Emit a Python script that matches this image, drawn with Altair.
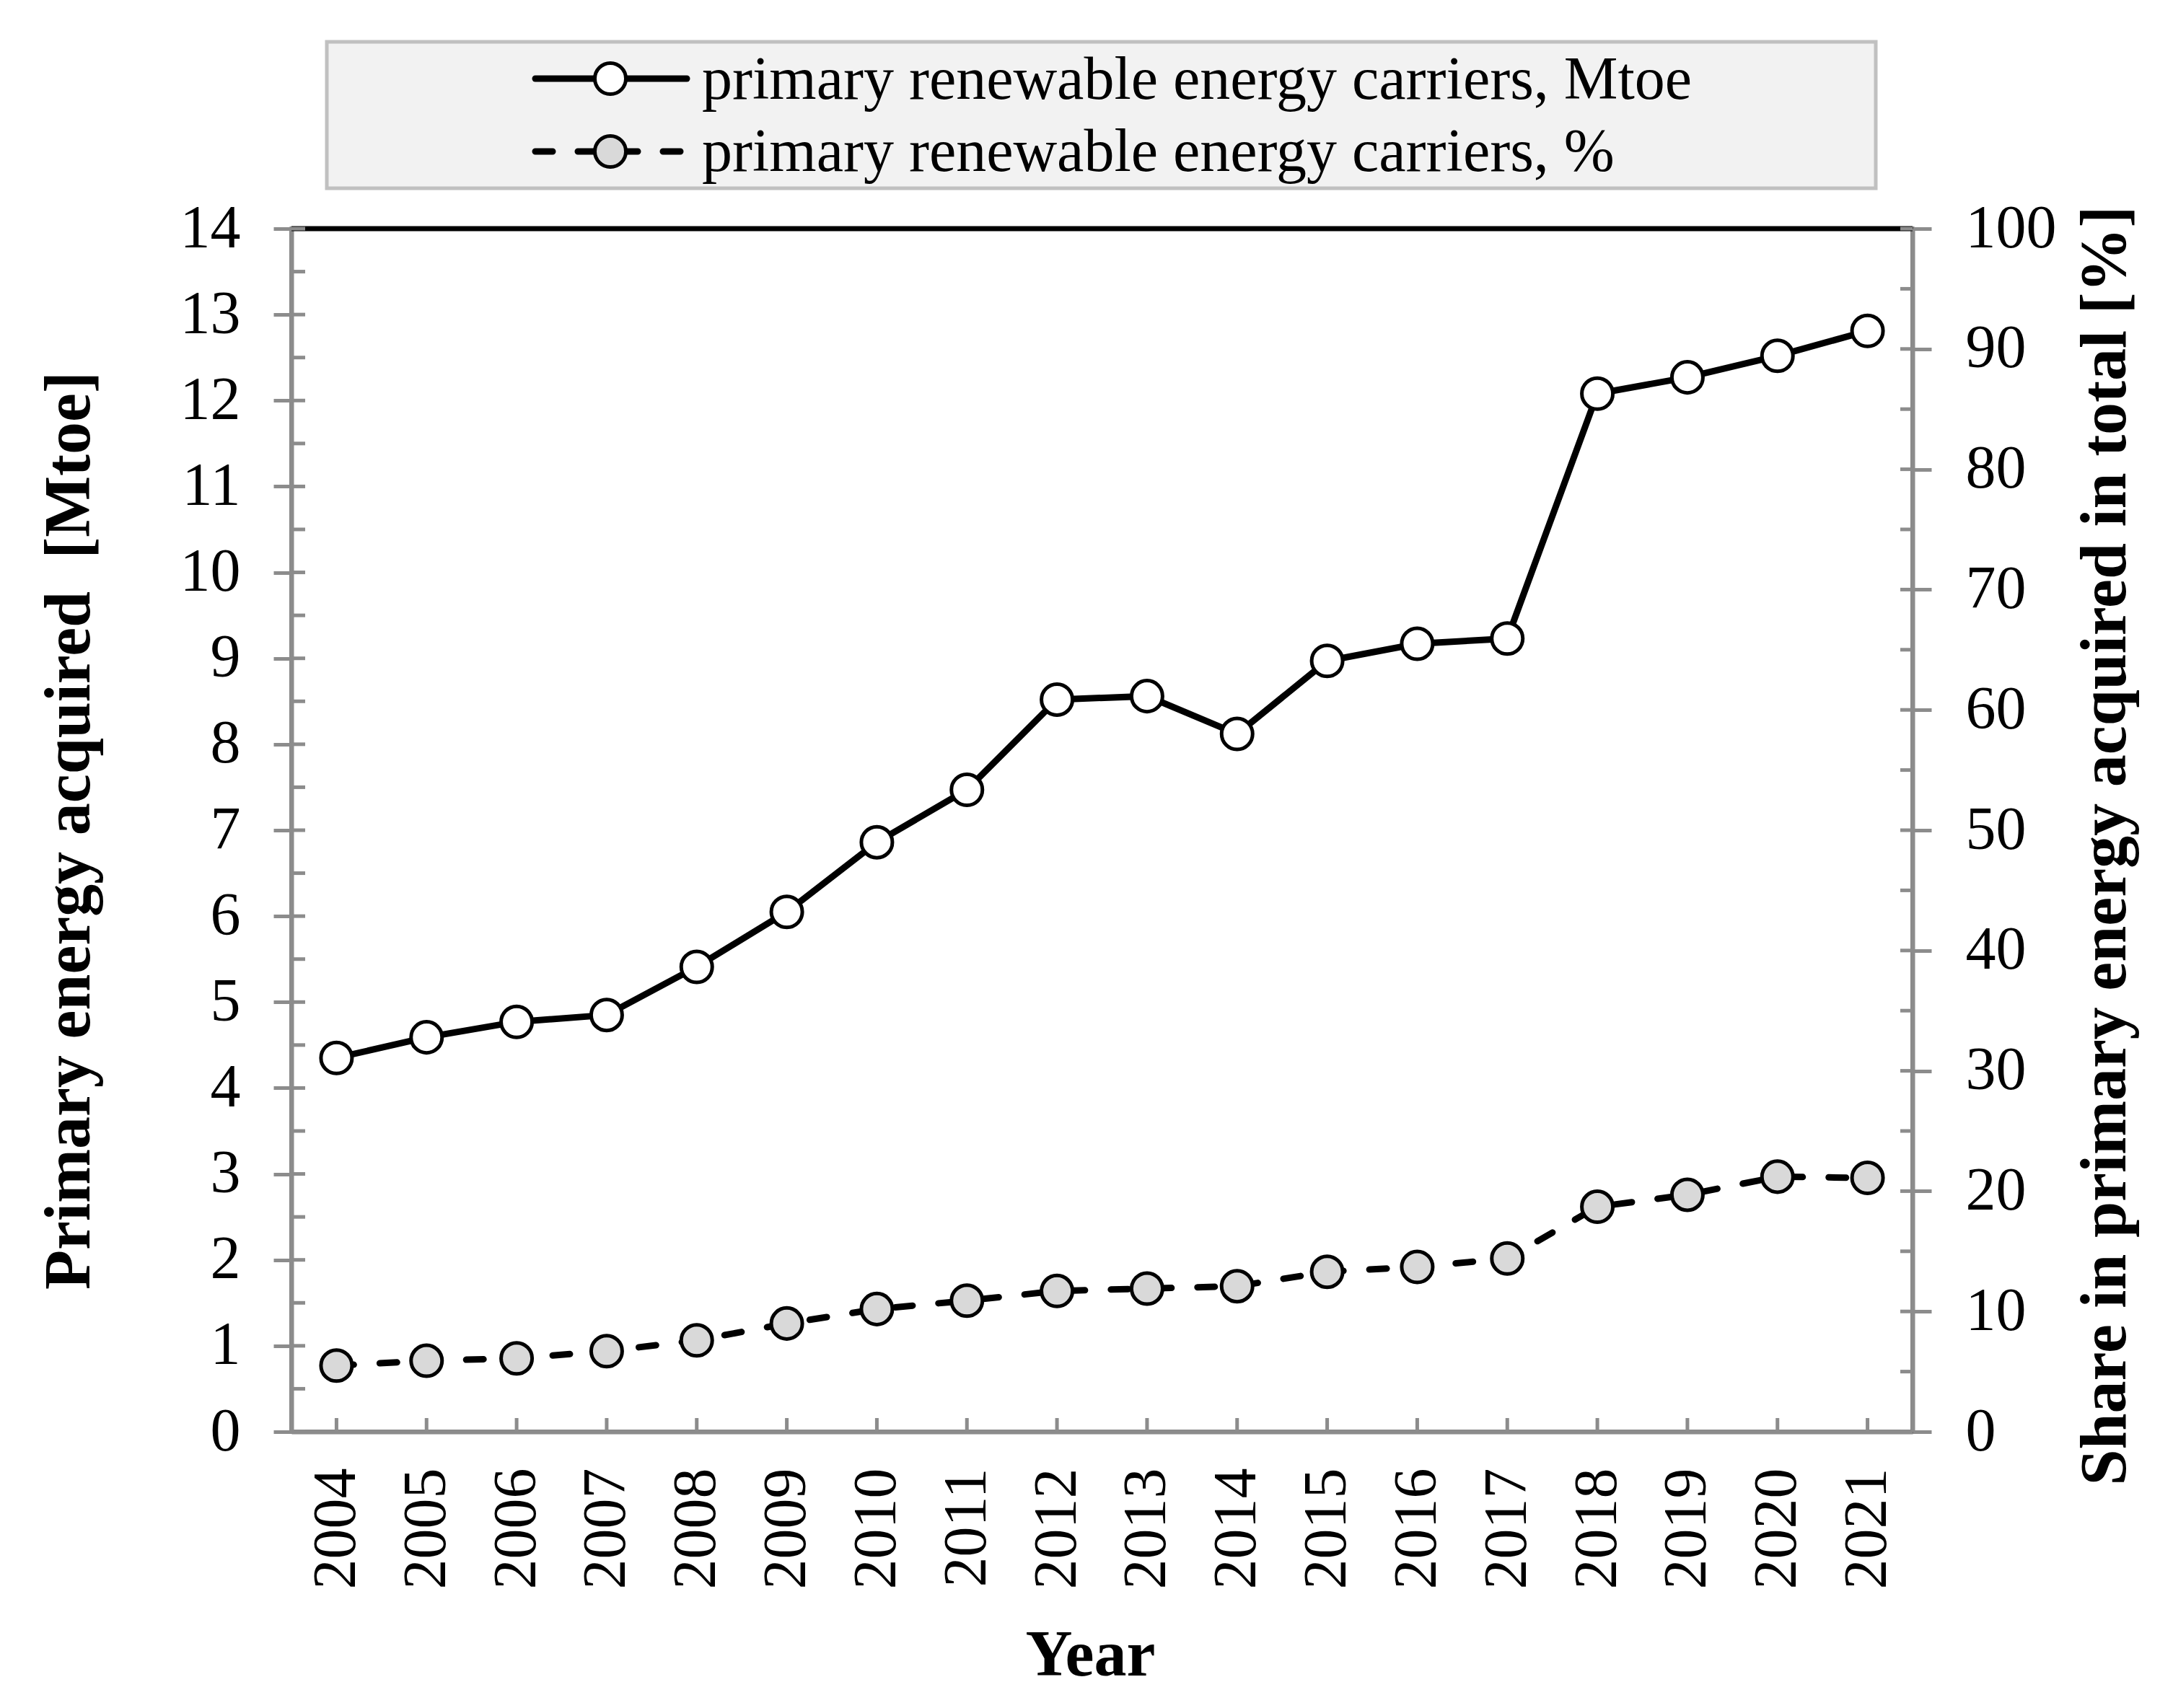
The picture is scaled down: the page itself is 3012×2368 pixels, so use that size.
import altair as alt
import pandas as pd

# ---- data ----
years = [2004, 2005, 2006, 2007, 2008, 2009, 2010, 2011, 2012,
         2013, 2014, 2015, 2016, 2017, 2018, 2019, 2020, 2021]
mtoe = [4.35, 4.59, 4.77, 4.85, 5.41, 6.05, 6.86, 7.47, 8.52,
        8.56, 8.12, 8.97, 9.17, 9.23, 12.08, 12.27, 12.52, 12.81]
share = [5.5, 5.9, 6.1, 6.7, 7.6, 9.0, 10.2, 10.9, 11.7,
         11.9, 12.1, 13.3, 13.7, 14.4, 18.7, 19.7, 21.2, 21.1]
legend_labels = ["primary renewable energy carriers, Mtoe",
                 "primary renewable energy carriers, %"]
mtoe_ticks = list(range(0, 15))
share_ticks = list(range(0, 101, 10))
mtoe_minor = [v / 2 for v in range(0, 29)]
share_minor = list(range(0, 101, 5))

# ---- style ----
W, H = 2247, 1668
FONT = "Liberation Serif"
GRAY = "#8c8c8c"
LBL = 84
TTL = 90
LW = 9
PSIZE = 1850

df = pd.DataFrame({"year": [str(y) for y in years], "mtoe": mtoe, "share": share})
leg = pd.DataFrame({"label": legend_labels})

xscale = alt.Scale(type="point", padding=0.5)
x_axis = alt.Axis(orient="bottom", ticks=False, tickSize=0, domainColor=GRAY, domainWidth=6,
                  grid=False, labelAngle=270, labelAlign="right", labelBaseline="middle",
                  labelFont=FONT, labelFontSize=LBL, labelColor="black", labelPadding=50,
                  title="Year", titleFont=FONT, titleFontSize=TTL, titleFontWeight="bold",
                  titleColor="black", titleX=1107, titleY=337, titleAlign="center",
                  titleBaseline="alphabetic")
x_enc = alt.X("year:O", scale=xscale, axis=x_axis)

lscale = alt.Scale(domain=[0, 14], nice=False, zero=True)
rscale = alt.Scale(domain=[0, 100], nice=False, zero=True)

left_axis = alt.Axis(orient="left", values=mtoe_ticks, tickSize=25, tickWidth=5, tickColor=GRAY,
                     domainColor=GRAY, domainWidth=6, grid=False, labelFlush=False,
                     labelOverlap=False, labelFont=FONT, labelFontSize=LBL, labelColor="black",
                     labelPadding=46,
                     title="Primary energy acquired\u00a0 [Mtoe]", titleFont=FONT,
                     titleFontSize=TTL, titleFontWeight="bold", titleColor="black",
                     titleAngle=270, titleX=-281, titleY=H / 2, titleAlign="center",
                     titleBaseline="alphabetic")
right_axis = alt.Axis(orient="right", values=share_ticks, tickSize=26, tickWidth=5, tickColor=GRAY,
                      domainColor=GRAY, domainWidth=6, grid=False, labelFlush=False,
                      labelOverlap=False, labelFont=FONT, labelFontSize=LBL, labelColor="black",
                      labelPadding=47,
                      title="Share in primary energy acquired in total [%]", titleFont=FONT,
                      titleFontSize=TTL, titleFontWeight="bold", titleColor="black",
                      titleAngle=270, titleX=294, titleY=855, titleAlign="center",
                      titleBaseline="alphabetic")


def ly(field):
    return alt.Y(field, scale=lscale, axis=left_axis)


def ry(field):
    return alt.Y(field, scale=rscale, axis=right_axis)


# ---- left (Mtoe) layer ----
left_rules = alt.Chart(pd.DataFrame({"v": mtoe_minor})).mark_rule(color=GRAY, strokeWidth=5).encode(
    y=ly("v:Q"), x=alt.value(0), x2=alt.value(19))
line1 = alt.Chart(df).mark_line(color="black", strokeWidth=LW).encode(x=x_enc, y=ly("mtoe:Q"))
pts1 = alt.Chart(df).mark_point(shape="circle", filled=True, fill="white", stroke="black",
                                strokeWidth=5, size=PSIZE, opacity=1).encode(
    x=x_enc, y=ly("mtoe:Q"))
left_layer = alt.layer(left_rules, line1, pts1)

# ---- right (%) layer ----
right_rules = alt.Chart(pd.DataFrame({"v": share_minor})).mark_rule(color=GRAY, strokeWidth=5).encode(
    y=ry("v:Q"), x=alt.value(W - 17), x2=alt.value(W))
line2 = alt.Chart(df).mark_line(color="black", strokeWidth=LW, strokeDash=[24, 36],
                                strokeCap="round").encode(x=x_enc, y=ry("share:Q"))
pts2 = alt.Chart(df).mark_point(shape="circle", filled=True, fill="#d9d9d9", stroke="black",
                                strokeWidth=5, size=PSIZE, opacity=1).encode(
    x=x_enc, y=ry("share:Q"))
right_layer = alt.layer(right_rules, line2, pts2)

# ---- inner x ticks and top frame line ----
x_rules = alt.Chart(df).mark_rule(color=GRAY, strokeWidth=5).encode(
    x=x_enc, y=alt.value(H - 19), y2=alt.value(H))
top_line = alt.Chart(leg.iloc[[0]]).mark_rule(color="black", strokeWidth=7).encode(
    x=alt.value(0), x2=alt.value(W), y=alt.value(0))

# ---- legend ----
row1 = leg.iloc[[0]]
row2 = leg.iloc[[1]]
box = alt.Chart(row1).mark_rect(fill="#f2f2f2", stroke="#c0c0c0", strokeWidth=5).encode(
    x=alt.value(49), x2=alt.value(2196), y=alt.value(-259), y2=alt.value(-56))
lg_line1 = alt.Chart(row1).mark_rule(color="black", strokeWidth=LW, strokeCap="round").encode(
    x=alt.value(338), x2=alt.value(548), y=alt.value(-208))
lg_line2 = alt.Chart(row2).mark_rule(color="black", strokeWidth=LW, strokeDash=[24, 35],
                                     strokeCap="round").encode(
    x=alt.value(338), x2=alt.value(548), y=alt.value(-107))
lg_pt1 = alt.Chart(row1).mark_point(shape="circle", filled=True, fill="white", stroke="black",
                                    strokeWidth=5, size=PSIZE, opacity=1).encode(
    x=alt.value(442), y=alt.value(-208))
lg_pt2 = alt.Chart(row2).mark_point(shape="circle", filled=True, fill="#d9d9d9", stroke="black",
                                    strokeWidth=5, size=PSIZE, opacity=1).encode(
    x=alt.value(442), y=alt.value(-107))
lg_txt1 = alt.Chart(row1).mark_text(align="left", baseline="alphabetic", font=FONT,
                                    fontSize=LBL, color="black").encode(
    x=alt.value(569), y=alt.value(-180), text="label:N")
lg_txt2 = alt.Chart(row2).mark_text(align="left", baseline="alphabetic", font=FONT,
                                    fontSize=LBL, color="black").encode(
    x=alt.value(569), y=alt.value(-80), text="label:N")

chart = alt.layer(
    x_rules, top_line, left_layer, right_layer,
    box, lg_line1, lg_line2, lg_pt1, lg_pt2, lg_txt1, lg_txt2
).resolve_scale(y="independent").properties(
    width=W, height=H,
    padding={"left": 396, "top": 309, "right": 340, "bottom": 360},
    autosize=alt.AutoSizeParams(type="none"),
    background="white",
).configure_view(stroke="black", strokeWidth=5)

chart.save("out.html", embed_options={"renderer": "svg", "actions": False})
